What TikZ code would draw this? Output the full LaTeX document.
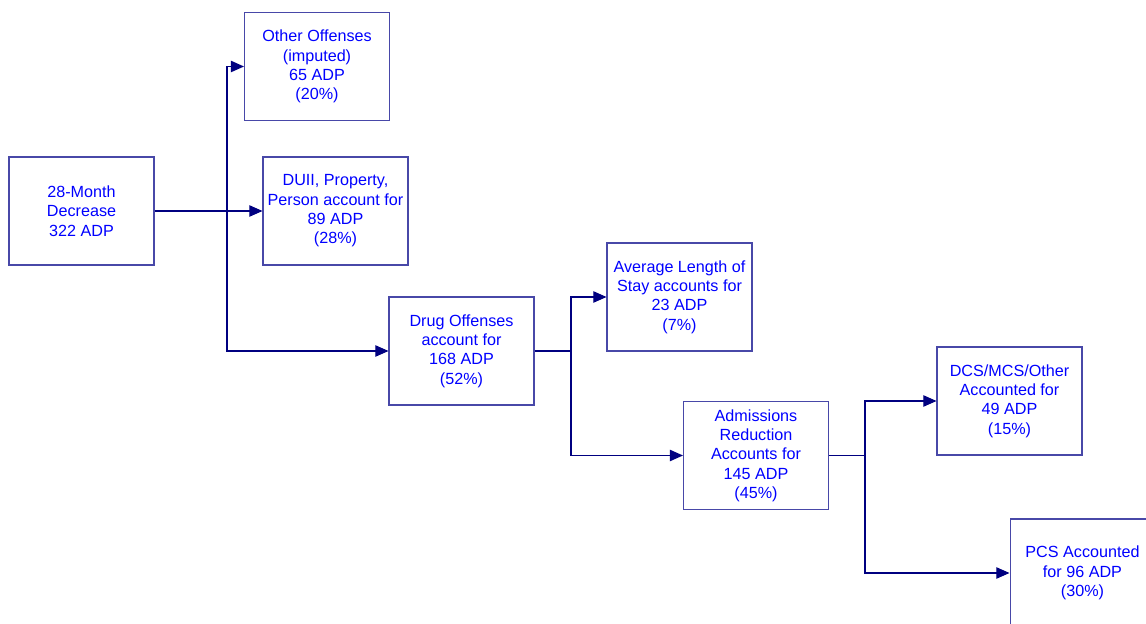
\documentclass[tikz,border=0pt]{standalone}
\usepackage{fontspec}
\setmainfont{Liberation Sans}
\usetikzlibrary{arrows.meta}
\usetikzlibrary{positioning}
\definecolor{boxline}{RGB}{72,72,168}
\definecolor{linkline}{RGB}{0,0,128}
\definecolor{boxtext}{RGB}{0,0,255}
\tikzstyle{block} = [rectangle, minimum width=2.9cm, minimum height=2.16cm, inner xsep=0.5mm, inner ysep=1mm, align=center, text centered, draw=boxline, line width=0.6pt, text=boxtext, font=\fontsize{9.2}{11}\selectfont]
\tikzstyle{arrow} = [draw=linkline, line width=0.65pt, -{Triangle[length=7.5pt,width=6.5pt]}]
\tikzstyle{link} = [draw=linkline, line width=0.65pt]

\begin{document}
\begin{tikzpicture}[x=0.02cm, y=-0.02cm]
\useasboundingbox (0,0) rectangle (1146,624);

\node (total) [block] at (81.5,211) {28-Month\\Decrease\\322 ADP};
\node (other) [block] at (317,66.5) {Other Offenses\\(imputed)\\65 ADP\\(20\%)};
\node (duii) [block] at (335.5,211) {DUII, Property,\\Person account for\\89 ADP\\(28\%)};
\node (drug) [block] at (461.5,351) {Drug Offenses\\account for\\168 ADP\\(52\%)};
\node (stay) [block] at (679.5,297) {Average Length of\\Stay accounts for\\23 ADP\\(7\%)};
\node (adm) [block] at (756,455.5) {Admissions\\Reduction\\Accounts for\\145 ADP\\(45\%)};
\node (dcs) [block] at (1009.5,401) {DCS/MCS/Other\\Accounted for\\49 ADP\\(15\%)};
\node (pcs) [block] at (1082.5,573) {PCS Accounted\\for 96 ADP\\(30\%)};

\coordinate (fork1) at (227,211);
\coordinate (fork2) at (571,351);
\coordinate (fork3) at (865,455.5);

\draw [arrow] (total) -- (duii);
\draw [arrow] (fork1) |- (other);
\draw [arrow] (fork1) |- (drug);
\draw [link] (drug) -- (fork2);
\draw [arrow] (fork2) |- (stay);
\draw [arrow] (fork2) |- (adm);
\draw [link] (adm) -- (fork3);
\draw [arrow] (fork3) |- (dcs);
\draw [arrow] (fork3) |- (pcs.west |- 0,573);

\end{tikzpicture}
\end{document}
